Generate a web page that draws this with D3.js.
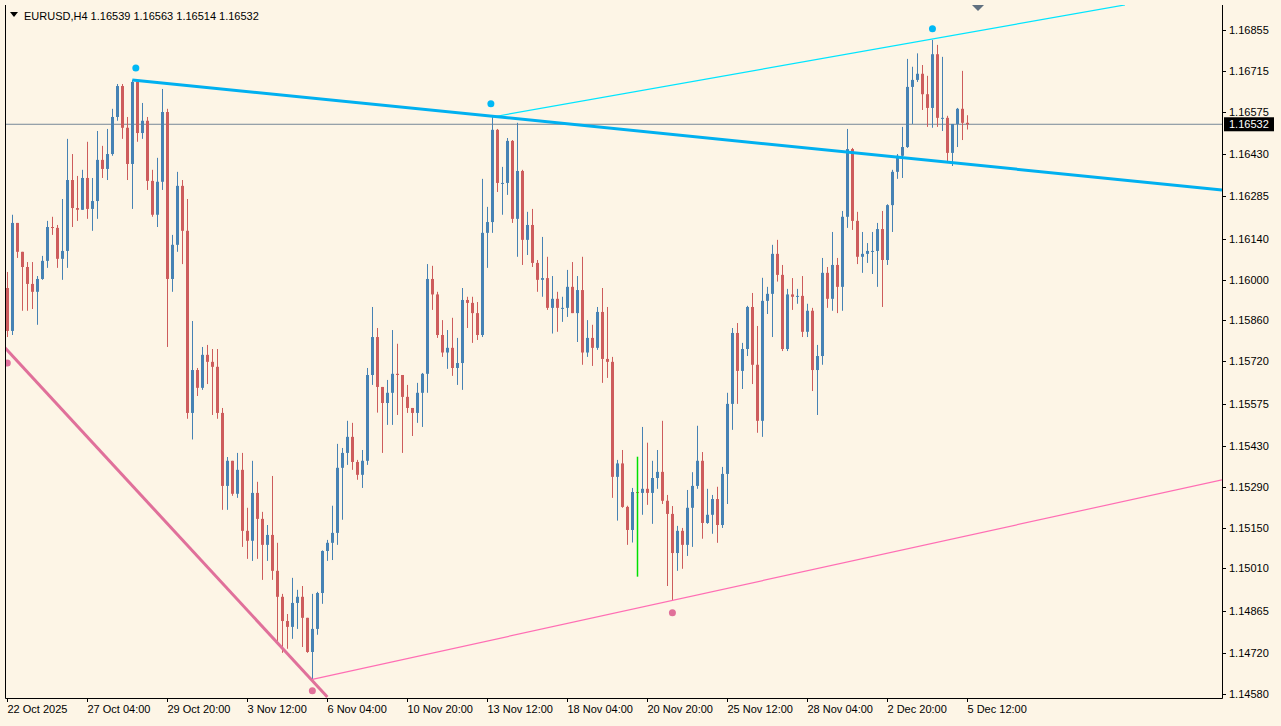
<!DOCTYPE html>
<html><head><meta charset="utf-8">
<script src="https://cdn.jsdelivr.net/npm/d3@7"></script>
<style>body{margin:0;background:#fdf5e6;}svg{display:block;font-family:"Liberation Sans",Arial,sans-serif;}</style>
</head><body><svg id="c" width="1281" height="726"></svg>
<script>
const firstOpen = 1.15971;
const closes = [1.15824,1.16194,1.16095,1.16043,1.15985,1.15958,1.16002,1.16064,1.16180,1.16177,1.16071,1.16098,1.16341,1.16245,1.16239,1.16348,1.16242,1.16269,1.16410,1.16379,1.16430,1.16557,1.16663,1.16520,1.16396,1.16677,1.16502,1.16544,1.16338,1.16222,1.16335,1.16574,1.16002,1.16119,1.16321,1.16167,1.15543,1.15690,1.15629,1.15742,1.15718,1.15701,1.15543,1.15293,1.15379,1.15266,1.15348,1.15139,1.15105,1.15269,1.15180,1.15091,1.15125,1.15002,1.14913,1.14830,1.14810,1.14892,1.14913,1.14841,1.14724,1.14803,1.14926,1.15070,1.15098,1.15132,1.15355,1.15406,1.15461,1.15375,1.15331,1.15379,1.15673,1.15803,1.15632,1.15577,1.15612,1.15677,1.15673,1.15598,1.15560,1.15543,1.15612,1.15677,1.16002,1.15949,1.15810,1.15750,1.15766,1.15697,1.15714,1.15930,1.15920,1.15885,1.15810,1.16160,1.16197,1.16513,1.16331,1.16331,1.16475,1.16208,1.16372,1.16136,1.16187,1.16057,1.15999,1.16005,1.15903,1.15934,1.15903,1.15903,1.15975,1.15885,1.15964,1.15750,1.15800,1.15766,1.15889,1.15728,1.15718,1.15324,1.15370,1.15221,1.15142,1.15272,1.15269,1.15283,1.15269,1.15320,1.15341,1.15242,1.15197,1.15063,1.15139,1.15091,1.15218,1.15293,1.15379,1.15166,1.15194,1.15248,1.15159,1.15334,1.15574,1.15817,1.15687,1.15762,1.15906,1.15708,1.15516,1.15927,1.15951,1.16088,1.16016,1.15762,1.15949,1.15941,1.15944,1.15821,1.15893,1.15690,1.15738,1.16023,1.15934,1.16050,1.15975,1.16215,1.16447,1.16201,1.16078,1.16088,1.16098,1.16098,1.16173,1.16067,1.16255,1.16369,1.16424,1.16454,1.16660,1.16684,1.16705,1.16635,1.16588,1.16772,1.16554,1.16554,1.16434,1.16533,1.16585,1.16537,1.16532];
const highs = [1.16026,1.16222,1.16194,1.16053,1.16060,1.16060,1.16012,1.16081,1.16201,1.16215,1.16187,1.16276,1.16482,1.16430,1.16355,1.16376,1.16472,1.16348,1.16509,1.16458,1.16516,1.16585,1.16670,1.16670,1.16557,1.16684,1.16681,1.16605,1.16557,1.16376,1.16417,1.16653,1.16585,1.16153,1.16369,1.16341,1.16276,1.15858,1.15697,1.15769,1.15776,1.15762,1.15762,1.15560,1.15392,1.15372,1.15406,1.15406,1.15218,1.15379,1.15307,1.15204,1.15159,1.15327,1.15098,1.14923,1.14854,1.14978,1.14937,1.14950,1.14841,1.14923,1.14930,1.15072,1.15108,1.15225,1.15437,1.15423,1.15516,1.15509,1.15382,1.15416,1.15697,1.15906,1.15834,1.15612,1.15656,1.15827,1.15780,1.15642,1.15639,1.15547,1.15646,1.15680,1.16053,1.16047,1.15958,1.15861,1.15827,1.15869,1.15800,1.15971,1.15941,1.15941,1.15923,1.16345,1.16249,1.16557,1.16516,1.16386,1.16485,1.16478,1.16537,1.16376,1.16232,1.16242,1.16067,1.16146,1.16078,1.16012,1.15958,1.15941,1.16033,1.16060,1.16012,1.16078,1.15861,1.15845,1.15906,1.15971,1.15906,1.15735,1.15382,1.15416,1.15225,1.15286,1.15279,1.15495,1.15441,1.15379,1.15416,1.15516,1.15262,1.15224,1.15156,1.15149,1.15279,1.15340,1.15499,1.15409,1.15283,1.15262,1.15290,1.15358,1.15612,1.15834,1.15851,1.15783,1.15910,1.15954,1.15841,1.16006,1.15975,1.16119,1.16136,1.16050,1.15968,1.16005,1.15968,1.16012,1.15917,1.15903,1.15776,1.16074,1.16043,1.16163,1.16074,1.16235,1.16516,1.16451,1.16232,1.16163,1.16125,1.16163,1.16194,1.16235,1.16258,1.16376,1.16430,1.16523,1.16756,1.16729,1.16775,1.16735,1.16698,1.16821,1.16804,1.16763,1.16561,1.16533,1.16588,1.16715,1.16563];
const lows = [1.15803,1.15810,1.16074,1.15893,1.15893,1.15899,1.15845,1.15999,1.16040,1.16153,1.16040,1.15999,1.16040,1.16180,1.16201,1.16269,1.16208,1.16167,1.16208,1.16348,1.16341,1.16424,1.16544,1.16482,1.16341,1.16242,1.16472,1.16482,1.16307,1.16215,1.16180,1.16307,1.15769,1.15958,1.16095,1.16053,1.15523,1.15452,1.15601,1.15622,1.15642,1.15536,1.15523,1.15211,1.15211,1.15259,1.15252,1.15084,1.15043,1.15036,1.15043,1.14971,1.15036,1.14971,1.14762,1.14721,1.14735,1.14769,1.14803,1.14741,1.14721,1.14630,1.14783,1.14889,1.15036,1.15039,1.15091,1.15177,1.15365,1.15348,1.15314,1.15286,1.15365,1.15639,1.15544,1.15406,1.15502,1.15502,1.15536,1.15406,1.15543,1.15464,1.15509,1.15495,1.15612,1.15896,1.15800,1.15735,1.15694,1.15670,1.15639,1.15622,1.15834,1.15783,1.15793,1.15803,1.16040,1.16160,1.16300,1.16222,1.16290,1.16194,1.16078,1.16050,1.16084,1.16043,1.15958,1.15941,1.15896,1.15815,1.15821,1.15855,1.15872,1.15885,1.15786,1.15708,1.15735,1.15704,1.15759,1.15646,1.15663,1.15252,1.15174,1.15218,1.15091,1.15099,1.15245,1.15194,1.15228,1.15163,1.15283,1.15231,1.14950,1.14902,1.15002,1.15009,1.15053,1.15084,1.15283,1.15112,1.15163,1.15129,1.15098,1.15149,1.15231,1.15485,1.15574,1.15625,1.15738,1.15642,1.15475,1.15461,1.15882,1.15803,1.15993,1.15755,1.15755,1.15896,1.15917,1.15803,1.15803,1.15618,1.15536,1.15708,1.15903,1.15893,1.15885,1.15893,1.16177,1.16170,1.16053,1.16023,1.16057,1.16019,1.15975,1.15906,1.16050,1.16163,1.16345,1.16348,1.16451,1.16533,1.16677,1.16581,1.16523,1.16520,1.16523,1.16509,1.16406,1.16389,1.16454,1.16478,1.16514];
const timeLabels = ["22 Oct 2025","27 Oct 04:00","29 Oct 20:00","3 Nov 12:00","6 Nov 04:00","10 Nov 20:00","13 Nov 12:00","18 Nov 04:00","20 Nov 20:00","25 Nov 12:00","28 Nov 04:00","2 Dec 20:00","5 Dec 12:00"];
const priceTicks = [1.16855,1.16715,1.16575,1.16430,1.16285,1.16140,1.16000,1.15860,1.15720,1.15575,1.15430,1.15290,1.15150,1.15010,1.14865,1.14720,1.14580];
const lastPrice = 1.16532;
const title = "EURUSD,H4  1.16539 1.16563 1.16514 1.16532";
const blueLine = [26, 1.16684, 243.9, 1.16307];
const cyanLine = [98, 1.16557, 224.5, 1.16941];
const pinkThick = [0.54, 1.15766, 65, 1.14570];
const pinkThin = [62, 1.14630, 243.9, 1.15314];
const cyanDots = [[26.7,1.16725],[97.7,1.16602],[186,1.16859]];
const pinkDots = [[1,1.15714],[62,1.14591],[134,1.14858]];
const greenBar = [127, 1.15393, 1.14982];

const svg = d3.select("#c");
const L=5, R=1222, T=5, B=698;
const x = d3.scaleLinear().domain([0, 243.9]).range([2.3, 1222]);
const y = d3.scaleLinear().domain([1.14580, 1.16855]).range([694, 30]);
const data = closes.map((c,i)=>({i:i+1, o: i===0?firstOpen:closes[i-1], c, h:highs[i], l:lows[i]}));

svg.append("rect").attr("width",1281).attr("height",726).attr("fill","#fdf5e6");
svg.append("defs").append("clipPath").attr("id","cp").append("rect").attr("x",L).attr("y",T).attr("width",R-L).attr("height",B-T);
const g = svg.append("g").attr("clip-path","url(#cp)");

g.append("line").attr("x1",L).attr("x2",R).attr("y1",y(lastPrice)).attr("y2",y(lastPrice)).attr("stroke","#778899").attr("stroke-width",1);

const col = d => d.c>=d.o ? "#4682b4" : "#cd5c5c";
g.selectAll(".w").data(data).join("line")
 .attr("x1",d=>Math.round(x(d.i))+0.5).attr("x2",d=>Math.round(x(d.i))+0.5)
 .attr("y1",d=>y(Math.max(d.h,d.o,d.c))).attr("y2",d=>y(Math.min(d.l,d.o,d.c)))
 .attr("stroke",col).attr("stroke-width",1);
g.selectAll(".b").data(data).join("rect")
 .attr("x",d=>Math.round(x(d.i))-1).attr("width",3)
 .attr("y",d=>y(Math.max(d.o,d.c))).attr("height",d=>Math.max(1,Math.abs(y(d.o)-y(d.c))))
 .attr("fill",col);

g.append("line").attr("x1",Math.round(x(greenBar[0]))+0.5).attr("x2",Math.round(x(greenBar[0]))+0.5)
 .attr("y1",y(greenBar[1])).attr("y2",y(greenBar[2])).attr("stroke","#00e000").attr("stroke-width",1.5);

function tl(a,color,w){g.append("line").attr("x1",x(a[0])).attr("y1",y(a[1])).attr("x2",x(a[2])).attr("y2",y(a[3])).attr("stroke",color).attr("stroke-width",w);}
tl(cyanLine,"#00e5ff",1.2);
tl(blueLine,"#00b0f0",3);
tl(pinkThick,"#e0709a",3);
tl(pinkThin,"#ff6eb4",1.2);
g.selectAll(".cd").data(cyanDots).join("circle").attr("cx",d=>x(d[0])).attr("cy",d=>y(d[1])).attr("r",3.5).attr("fill","#00b8f5");
g.selectAll(".pd").data(pinkDots).join("circle").attr("cx",d=>x(d[0])).attr("cy",d=>y(d[1])).attr("r",3.5).attr("fill","#e0709a");
g.append("path").attr("d","M972,5 L984,5 L978,11 Z").attr("fill","#607080");

svg.append("path").attr("d",`M${L+0.5},${T} V${B+0.5} H${R+0.5} V${T}`).attr("fill","none").attr("stroke","#000");

const ya = svg.append("g").attr("font-size",11);
priceTicks.forEach(p=>{
  ya.append("line").attr("x1",R).attr("x2",R+4).attr("y1",Math.round(y(p))+0.5).attr("y2",Math.round(y(p))+0.5).attr("stroke","#000");
  ya.append("text").attr("x",R+7).attr("y",y(p)+4).text(p.toFixed(5)).attr("fill","#000");
});
ya.append("rect").attr("x",R+2).attr("y",y(lastPrice)-7).attr("width",50).attr("height",14).attr("fill","#000");
ya.append("text").attr("x",R+7).attr("y",y(lastPrice)+4).text(lastPrice.toFixed(5)).attr("fill","#fff");

const xa = svg.append("g").attr("font-size",11);
timeLabels.forEach((t,k)=>{
  const xi = Math.round(x(1+16*k))+0.5;
  xa.append("line").attr("x1",xi).attr("x2",xi).attr("y1",B).attr("y2",B+4).attr("stroke","#000");
  xa.append("text").attr("x",xi).attr("y",B+15).text(t).attr("fill","#000");
});

svg.append("path").attr("d","M10,12 L18,12 L14,17 Z").attr("fill","#000");
svg.append("text").attr("x",24).attr("y",20).attr("font-size",11).attr("fill","#000").text(title);
</script></body></html>
